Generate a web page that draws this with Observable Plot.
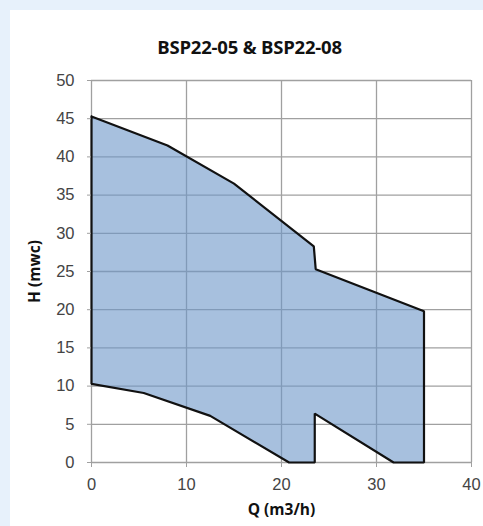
<!DOCTYPE html>
<html>
<head>
<meta charset="utf-8">
<script src="https://cdn.jsdelivr.net/npm/d3@7"></script>
<script src="https://cdn.jsdelivr.net/npm/@observablehq/plot@0.6"></script>
<style>
  html, body { margin: 0; padding: 0; background: #e7f1fb; width: 483px; height: 526px; overflow: hidden; }
  #panel { position: absolute; left: 10px; top: 10px; width: 473px; height: 516px; background: #fff; }
  #title { height: 55px; line-height: 20px; padding-top: 27px; box-sizing: border-box; text-align: center;
           font-family: "Open Sans", sans-serif; font-weight: 700; font-size: 18.5px; color: #111; padding-left: 6px; letter-spacing: -0.2px; }
  svg { display: block; }
</style>
</head>
<body>
<div id="panel"><div id="title">BSP22-05 &amp; BSP22-08</div><div id="chart"></div></div>
<script>
// Operating envelope outline, traced clockwise (Q in m3/h, H in mwc)
const qPoints = [0, 8, 15, 23.4, 23.6, 35, 35, 31.8, 23.5, 23.5, 20.8, 12.5, 5.5, 0, 0];
const hPoints = [45.3, 41.5, 36.5, 28.3, 25.3, 19.8, 0, 0, 6.4, 0, 0, 6.1, 9.1, 10.3, 45.3];
const xTicks = [0, 10, 20, 30, 40];
const yTicks = [0, 5, 10, 15, 20, 25, 30, 35, 40, 45, 50];

const outline = qPoints.map((q, i) => ({q, h: hPoints[i]}));

const chart = Plot.plot({
  width: 473,
  height: 461,
  marginLeft: 81,
  marginRight: 12,
  marginTop: 15,
  marginBottom: 64,
  style: {fontFamily: "'Liberation Sans', Arial, sans-serif", fontSize: "16.5px", color: "#444", background: "white"},
  x: {domain: [0, 40]},
  y: {domain: [0, 50]},
  marks: [
    Plot.gridX(xTicks, {stroke: "#a0a0a0", strokeOpacity: 1, strokeWidth: 1.3}),
    Plot.gridY(yTicks, {stroke: "#a0a0a0", strokeOpacity: 1, strokeWidth: 1.3}),
    Plot.line(outline, {x: "q", y: "h", fill: "#6c96c8", fillOpacity: 0.6, stroke: "#111", strokeWidth: 2.2, strokeLinejoin: "miter", curve: "linear"}),
    Plot.axisX(xTicks, {tickSize: 5, tickPadding: 11, stroke: "#a0a0a0", fill: "#444", label: "Q (m3/h)", labelAnchor: "center", labelArrow: "none", labelOffset: 52}),
    Plot.axisY(yTicks, {tickSize: 4, tickPadding: 13, stroke: "#a0a0a0", fill: "#444", label: "H (mwc)", labelAnchor: "center", labelArrow: "none", labelOffset: 63})
  ]
});
document.getElementById("chart").appendChild(chart);
// bold, dark axis titles
chart.querySelectorAll("g[aria-label='x-axis label'] text, g[aria-label='y-axis label'] text").forEach(t => {
  t.style.fontWeight = "700";
  t.style.fontFamily = "'Open Sans', sans-serif";
  t.style.fontSize = "15.5px";
  t.setAttribute("fill", "#111");
});
</script>
</body>
</html>
